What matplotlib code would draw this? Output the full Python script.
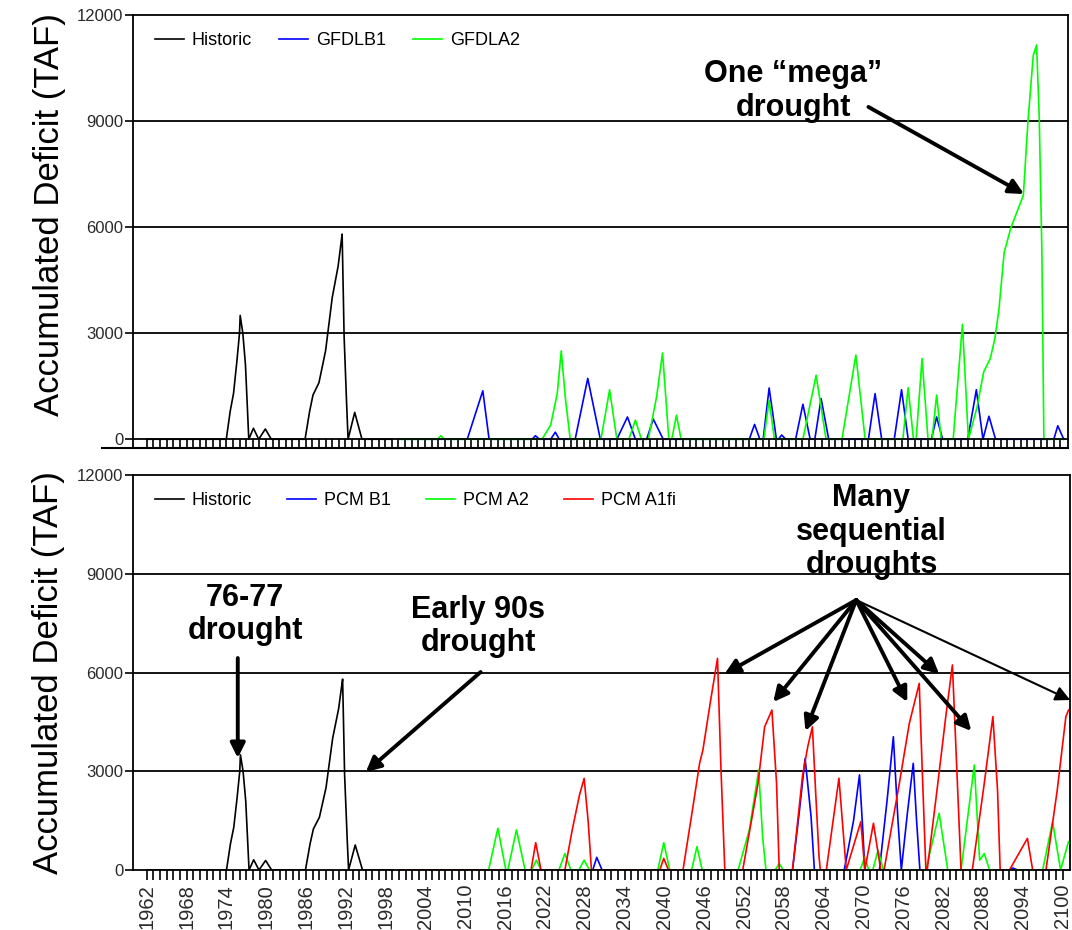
import matplotlib
matplotlib.use('Agg')
import matplotlib.pyplot as plt
from matplotlib.ticker import FixedLocator, FixedFormatter, NullFormatter

plt.rcParams['font.family'] = ['Liberation Sans', 'DejaVu Sans']

# ---- data (year, accumulated deficit in TAF) ----
hist_yr = [1962, 1974.0, 1974.6, 1975.1, 1975.6, 1976.0, 1976.1, 1976.5, 1976.9, 1977.4, 1978.1, 1978.9,
           1979.9, 1980.8, 1985.9, 1986.6, 1987.1, 1988.0, 1989.0, 1990.0, 1990.9, 1991.3, 1991.5, 1991.8,
           1992.2, 1992.4, 1993.4, 1994.5, 1999]
hist_val = [0, 0, 800, 1300, 2200, 3000, 3500, 3000, 2100, 0, 310, 0,
            290, 0, 0, 800, 1250, 1600, 2500, 4000, 4900, 5500, 5800, 2900,
            900, 0, 760, 0, 0]

gfdl_b1_yr = [2000, 2010.4, 2012.75, 2013.7, 2020.2, 2020.7, 2021.3, 2023.0, 2023.7, 2024.3, 2026.7, 2028.6,
              2030.5, 2033.0, 2034.6, 2035.8, 2037.5, 2038.5, 2040.0, 2053.0, 2053.8, 2054.6, 2055.1, 2056.0,
              2057.1, 2057.4, 2057.9, 2058.5, 2060.0, 2061.1, 2062.2, 2062.9, 2063.85, 2065.0, 2071.0, 2072.0,
              2073.0, 2074.9, 2076.0, 2077.0, 2080.5, 2081.3, 2082.2, 2086.0, 2087.3, 2088.3, 2089.2, 2090.2,
              2099.0, 2099.6, 2100.5]
gfdl_b1_val = [0, 0, 1370, 0, 0, 100, 0, 0, 200, 0, 0, 1720,
               0, 0, 630, 0, 0, 570, 0, 0, 420, 0, 0, 1450,
               0, 0, 120, 0, 0, 990, 0, 0, 1150, 0, 0, 1290,
               0, 0, 1400, 0, 0, 630, 0, 0, 1400, 0, 650, 0,
               0, 380, 0]

gfdl_a2_yr = [2000, 2005.9, 2006.4, 2007.0, 2021.7, 2023.0, 2024.0, 2024.6, 2025.2, 2025.95, 2030.6, 2031.9,
              2033.0, 2034.8, 2035.8, 2036.7, 2037.75, 2039.0, 2039.9, 2040.85, 2041.3, 2042.0, 2042.7, 2055.2,
              2056.0, 2056.8, 2061.1, 2063.1, 2064.6, 2067.0, 2069.1, 2070.5, 2076.2, 2077.0, 2077.8, 2078.2,
              2079.1, 2080.0, 2080.6, 2081.3, 2082.0, 2083.8, 2085.2, 2086.1, 2087.4, 2088.4, 2089.4, 2090.1,
              2090.7, 2091.5, 2092.5, 2094.4, 2095.1, 2095.9, 2096.4, 2096.8, 2097.2, 2097.5, 2100.5]
gfdl_a2_val = [0, 0, 100, 0, 0, 400, 1300, 2500, 1200, 0, 0, 1400,
               0, 0, 540, 0, 0, 1200, 2440, 0, 0, 680, 0, 0,
               1100, 0, 0, 1810, 0, 0, 2380, 0, 0, 1460, 0, 0,
               2280, 0, 0, 1250, 0, 0, 3250, 0, 900, 1900, 2280, 2850,
               3650, 5280, 5970, 6900, 9000, 10860, 11150, 9100, 5290, 0, 0]

pcm_b1_yr = [2000, 2029.2, 2029.8, 2030.6, 2059.3, 2060.3, 2061.2, 2062.1, 2062.6, 2067.1, 2068.5, 2069.4,
             2069.9, 2070.2, 2072.4, 2073.6, 2074.5, 2075.2, 2075.7, 2076.6, 2077.5, 2078.0, 2078.5, 2092.0,
             2092.5, 2093.2, 2100.9]
pcm_b1_val = [0, 0, 385, 0, 0, 1720, 3390, 1620, 0, 0, 1500, 2890,
              1200, 0, 0, 2200, 4050, 1500, 0, 1700, 3240, 1500, 0, 0,
              60, 0, 0]

pcm_a2_yr = [2000, 2013.5, 2014.9, 2016.1, 2016.4, 2017.7, 2019.0, 2020.0, 2020.7, 2021.4, 2024.1, 2025.0,
             2025.9, 2027.1, 2027.9, 2028.7, 2039.0, 2039.9, 2040.8, 2044.1, 2044.9, 2045.7, 2051.1, 2052.8,
             2054.2, 2054.8, 2055.3, 2056.7, 2057.3, 2057.9, 2069.5, 2070.2, 2070.8, 2071.4, 2072.2, 2073.0,
             2079.4, 2081.4, 2082.7, 2084.7, 2086.7, 2087.5, 2088.2, 2089.0, 2097.0, 2098.5, 2099.7, 2100.9]
pcm_a2_val = [0, 0, 1270, 0, 0, 1220, 0, 0, 300, 0, 0, 500,
              0, 0, 300, 0, 0, 830, 0, 0, 710, 0, 0, 1220,
              3040, 1000, 0, 0, 200, 0, 0, 400, 0, 0, 600, 0,
              0, 1720, 0, 0, 3190, 300, 500, 0, 0, 1470, 0, 860]

pcm_a1fi_yr = [2000, 2019.9, 2020.6, 2021.4, 2025.0, 2026.1, 2027.2, 2027.9, 2028.5, 2029.0, 2039.3, 2039.9,
               2040.6, 2042.8, 2044.3, 2045.3, 2045.8, 2047.0, 2048.0, 2048.5, 2048.9, 2049.1, 2051.8, 2054.1,
               2055.1, 2056.2, 2056.9, 2057.3, 2059.3, 2060.8, 2061.6, 2062.3, 2062.8, 2063.3, 2063.5, 2064.4,
               2066.3, 2067.4, 2069.6, 2070.2, 2071.5, 2072.6, 2073.1, 2075.4, 2076.9, 2078.4, 2078.8, 2079.4,
               2079.6, 2081.2, 2082.4, 2083.4, 2083.9, 2084.7, 2086.4, 2088.2, 2089.5, 2090.2, 2090.6, 2092.0,
               2094.7, 2095.5, 2097.5, 2099.2, 2100.5, 2100.9]
pcm_a1fi_val = [0, 0, 830, 0, 0, 1215, 2280, 2785, 1500, 0, 0, 354,
                0, 0, 1924, 3240, 3650, 5200, 6430, 3190, 1060, 0, 0, 2630,
                4350, 4860, 2630, 0, 0, 2840, 3750, 4350, 2330, 400, 0, 0,
                2790, 0, 1470, 0, 1420, 0, 0, 2630, 4450, 5670, 3340, 0,
                0, 2630, 4660, 6230, 3850, 0, 0, 2630, 4660, 2430, 0, 0,
                960, 0, 0, 2430, 4660, 4860]

years = list(range(1962, 2101))
label_years = years[::6]
y_ticks = [0, 3000, 6000, 9000, 12000]

fig = plt.figure(figsize=(10.72, 9.30), dpi=100)
ax1 = fig.add_axes([0.124, 0.518, 0.872, 0.466])
ax2 = fig.add_axes([0.124, 0.0645, 0.874, 0.4247])

LW = 1.2
TXT = '#2a2a2a'


def style(ax, ymin, show_labels, label_y):
    ax.set_xlim(1959.9, 2101.1)
    ax.set_ylim(ymin, 12000)
    ax.set_yticks(y_ticks)
    ax.set_yticklabels([str(v) for v in y_ticks])
    ax.xaxis.set_major_locator(FixedLocator(years))
    if show_labels:
        ax.xaxis.set_major_formatter(
            FixedFormatter([str(y) if y in label_years else '' for y in years]))
    else:
        ax.xaxis.set_major_formatter(NullFormatter())
    ax.tick_params(axis='x', direction='out', length=7, width=1.2, pad=3,
                   labelrotation=90, labelsize=14.5, labelcolor=TXT)
    ax.tick_params(axis='y', direction='out', length=6, width=1.2, pad=1,
                   labelsize=12, labelcolor=TXT)
    ax.spines['bottom'].set_position(('data', 0))
    for s in ax.spines.values():
        s.set_linewidth(1.3)
    for g in [3000, 6000, 9000]:
        ax.axhline(g, color='black', lw=1.3, zorder=1)
    ax.set_ylabel('Accumulated Deficit (TAF)', fontsize=25)
    ax.yaxis.set_label_coords(-0.072, label_y)


leg_kw = dict(loc='upper left', bbox_to_anchor=(0.006, 0.997), frameon=False, fontsize=13,
              handlelength=1.6, handletextpad=0.45)

# ---- top panel: GFDL ----
style(ax1, -255, False, 0.54)
ax1.plot(hist_yr, hist_val, color='black', lw=LW, label='Historic')
ax1.plot(gfdl_b1_yr, gfdl_b1_val, color='#0000ff', lw=LW, label='GFDLB1')
ax1.plot(gfdl_a2_yr, gfdl_a2_val, color='#00ff00', lw=LW, label='GFDLA2')
ax1.plot([-0.033, 1], [0, 0], transform=ax1.transAxes, color='black', lw=1.5, clip_on=False)
ax1.legend(ncol=3, columnspacing=1.5, **leg_kw)

bold = dict(ha='center', va='center', fontsize=22, fontweight='bold', linespacing=1.15)
arrow = dict(arrowstyle='-|>', color='black', lw=2.8, mutation_scale=22, shrinkA=0, shrinkB=0)

ax1.text(2059.6, 9850, 'One \u201cmega\u201d\ndrought', **bold)
ax1.annotate('', xy=(2094.5, 6934), xytext=(2071.0, 9396), arrowprops=arrow)

# ---- bottom panel: PCM ----
style(ax2, 0, True, 0.5)
ax2.plot(hist_yr, hist_val, color='black', lw=LW, label='Historic')
ax2.plot(pcm_b1_yr, pcm_b1_val, color='#0000ff', lw=LW, label='PCM B1')
ax2.plot(pcm_a2_yr, pcm_a2_val, color='#00ff00', lw=LW, label='PCM A2')
ax2.plot(pcm_a1fi_yr, pcm_a1fi_val, color='#ff0000', lw=LW, label='PCM A1fi')
ax2.legend(ncol=4, columnspacing=1.95, **leg_kw)

ax2.text(1976.8, 7760, '76-77\ndrought', **bold)
ax2.annotate('', xy=(1975.7, 3403), xytext=(1975.7, 6440), arrowprops=arrow)

ax2.text(2011.9, 7400, 'Early 90s\ndrought', **bold)
ax2.annotate('', xy=(1995.0, 2977), xytext=(2012.3, 6015), arrowprops=arrow)

ax2.text(2071.2, 10280, 'Many\nsequential\ndroughts', **bold)
src = (2068.9, 8203)
targets = [(2049.05, 5955), (2056.4, 5104), (2061.25, 4223), (2076.6, 5104),
           (2081.4, 5955), (2086.25, 4223)]
for t in targets:
    ax2.annotate('', xy=t, xytext=src, arrowprops=arrow)
ax2.annotate('', xy=(2101.15, 5165), xytext=src, annotation_clip=False,
             arrowprops=dict(arrowstyle='-|>', color='black', lw=1.5, mutation_scale=22,
                             shrinkA=0, shrinkB=0))

fig.savefig('out.png', dpi=100)
